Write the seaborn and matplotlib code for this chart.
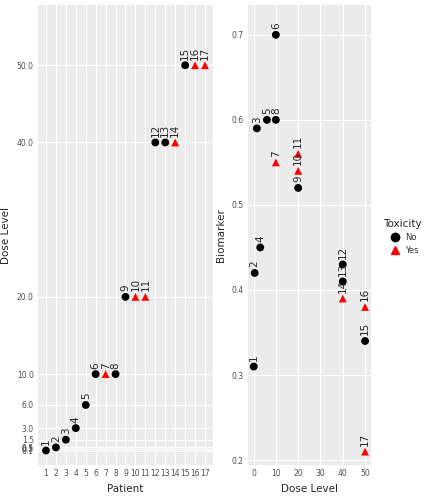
import matplotlib
matplotlib.use("Agg")
import matplotlib.pyplot as plt
import seaborn as sns
import pandas as pd
from matplotlib.lines import Line2D

patients = list(range(1, 18))
dose = [0.1, 0.5, 1.5, 3, 6, 10, 10, 10, 20, 20, 20, 40, 40, 40, 50, 50, 50]
toxicity = ["No", "No", "No", "No", "No", "No", "Yes", "No", "No", "Yes", "Yes",
            "No", "No", "Yes", "No", "Yes", "Yes"]
biomarker = [0.31, 0.42, 0.59, 0.45, 0.60, 0.70, 0.55, 0.60, 0.52, 0.54, 0.56,
             0.43, 0.41, 0.39, 0.34, 0.38, 0.21]
dose_ticks = [0.1, 0.3, 0.5, 1.5, 3, 6, 10, 20, 40, 50]

df = pd.DataFrame(dict(Patient=patients, Dose=dose, Toxicity=toxicity, Biomarker=biomarker))

sns.set_theme(style="darkgrid", rc={"axes.facecolor": "#EBEBEB", "grid.color": "white",
                                    "font.size": 7})
plt.rcParams['font.family'] = ['DejaVu Sans']
fig = plt.figure(figsize=(4.32, 5.04), dpi=100)
ax1 = fig.add_axes([0.088, 0.077, 0.405, 0.913])
ax2 = fig.add_axes([0.574, 0.077, 0.284, 0.913])

pal = {"No": "black", "Yes": "red"}
mk = {"No": "o", "Yes": "^"}
for ax, x, y in [(ax1, "Patient", "Dose"), (ax2, "Dose", "Biomarker")]:
    sns.scatterplot(data=df, x=x, y=y, hue="Toxicity", style="Toxicity", palette=pal,
                    markers=mk, s=32, edgecolor="none", ax=ax, legend=False, zorder=3)
    for _, r in df.iterrows():
        ax.annotate(str(r["Patient"]), (r[x], r[y]), xytext=(0, 4), textcoords="offset points",
                    rotation=90, ha="center", va="bottom", fontsize=7.5)
    ax.tick_params(labelsize=5.5, colors="#4D4D4D", length=2, pad=1)
    for s in ax.spines.values():
        s.set_visible(False)

ax1.set_xticks(patients)
ax1.set_xlim(0.2, 17.8)
ax1.set_yticks(dose_ticks)
ax1.set_yticklabels([f"{t:.1f}" for t in dose_ticks])
ax1.set_ylim(-1.8, 57.8)
ax1.set_xlabel("Patient", fontsize=7.5)
ax1.set_ylabel("Dose Level", fontsize=7.5)

ax2.set_xticks([0, 10, 20, 30, 40, 50])
ax2.set_xlim(-2.5, 52.5)
ax2.set_yticks([0.2, 0.3, 0.4, 0.5, 0.6, 0.7])
ax2.set_ylim(0.194, 0.735)
ax2.set_xlabel("Dose Level", fontsize=7.5)
ax2.set_ylabel("Biomarker", fontsize=7.5)
for ax in (ax1, ax2):
    ax.grid(True, which="major", color="white", linewidth=0.8)

handles = [Line2D([], [], marker="o", color="black", ls="none", markersize=6),
           Line2D([], [], marker="^", color="red", ls="none", markersize=6)]
leg = fig.legend(handles, ["No", "Yes"], title="Toxicity", loc="center left",
                 bbox_to_anchor=(0.87, 0.53), frameon=False, fontsize=6,
                 title_fontsize=7.5, handletextpad=0.3)
for t in leg.get_texts():
    t.set_color("#333333")
fig.savefig("out.png", dpi=100, facecolor="white")
